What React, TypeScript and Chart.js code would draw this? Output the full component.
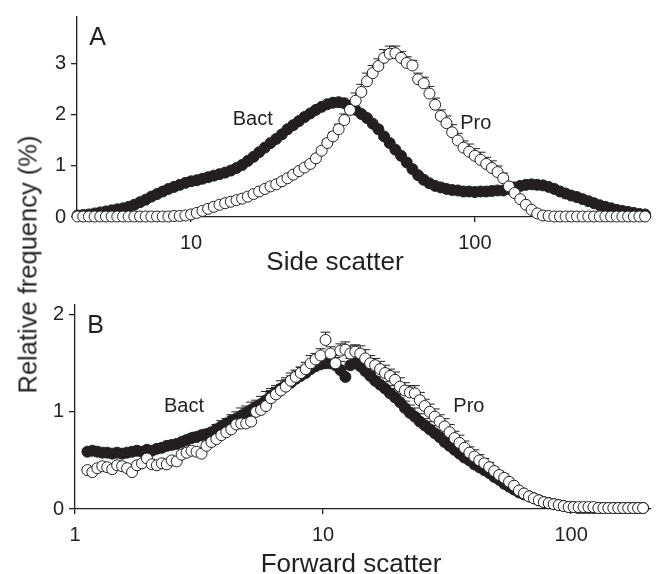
import React, { useEffect, useRef } from "react";
import { Chart, registerables } from "chart.js";

Chart.register(...registerables);

const FONT = '"Liberation Sans", Arial, Helvetica, sans-serif';
const INK = "#231f20";

// Channel grid: log10 of the scatter channel, equal log steps
const SIDE_LOG_START = 0.6;
const FWD_LOG_START = 0.05;
const LOG_STEP = 0.02;

// Panel A – side scatter, relative frequency (%)
const sideBact = [
  0.03, 0.04, 0.05, 0.07, 0.09, 0.11, 0.13, 0.15, 0.17, 0.2,
  0.24, 0.29, 0.34, 0.4, 0.45, 0.5, 0.55, 0.59, 0.63, 0.67,
  0.7, 0.72, 0.75, 0.78, 0.81, 0.84, 0.87, 0.91, 0.96, 1.02,
  1.1, 1.18, 1.27, 1.36, 1.45, 1.53, 1.62, 1.72, 1.8, 1.88,
  1.96, 2.03, 2.1, 2.16, 2.21, 2.24, 2.25, 2.23, 2.18, 2.1,
  2.02, 1.94, 1.83, 1.72, 1.58, 1.45, 1.32, 1.2, 1.07, 0.94,
  0.82, 0.73, 0.66, 0.61, 0.58, 0.55, 0.53, 0.52, 0.5, 0.5,
  0.49, 0.5, 0.5, 0.51, 0.52, 0.52, 0.55, 0.58, 0.61, 0.63,
  0.64, 0.63, 0.62, 0.59, 0.55, 0.5, 0.46, 0.42, 0.39, 0.35,
  0.31, 0.27, 0.23, 0.2, 0.17, 0.14, 0.12, 0.1, 0.08, 0.06,
  0.05,
];

const sidePro = [
  0.01, 0.01, 0.01, 0.01, 0.01, 0.01, 0.01, 0.01, 0.01, 0.01,
  0.01, 0.01, 0.01, 0.01, 0.01, 0.01, 0.01, 0.02, 0.02, 0.03,
  0.05, 0.08, 0.12, 0.16, 0.2, 0.24, 0.27, 0.3, 0.33, 0.36,
  0.4, 0.45, 0.5, 0.55, 0.6, 0.64, 0.7, 0.76, 0.83, 0.9,
  0.97, 1.04, 1.15, 1.3, 1.45, 1.58, 1.72, 1.9, 2.1, 2.28,
  2.45, 2.66, 2.82, 2.96, 3.12, 3.2, 3.21, 3.12, 3.02, 2.97,
  2.7, 2.62, 2.42, 2.2, 1.98, 1.84, 1.66, 1.5, 1.36, 1.28,
  1.2, 1.12, 1.04, 0.96, 0.88, 0.76, 0.6, 0.47, 0.35, 0.24,
  0.14, 0.07, 0.03, 0.02, 0.01, 0.01, 0.01, 0.01, 0.01, 0.01,
  0.01, 0.01, 0.01, 0.01, 0.01, 0.01, 0.01, 0.01, 0.01, 0.01,
  0.01,
];

const sideProErr = [
  0.02, 0.02, 0.02, 0.02, 0.02, 0.02, 0.02, 0.02, 0.02, 0.02,
  0.02, 0.02, 0.02, 0.02, 0.02, 0.02, 0.02, 0.02, 0.02, 0.02,
  0.02, 0.02, 0.02, 0.02, 0.02, 0.02, 0.02, 0.02, 0.02, 0.02,
  0.03, 0.03, 0.03, 0.03, 0.03, 0.03, 0.04, 0.04, 0.04, 0.04,
  0.05, 0.05, 0.06, 0.06, 0.07, 0.08, 0.1, 0.12, 0.14, 0.15,
  0.15, 0.16, 0.15, 0.14, 0.16, 0.15, 0.14, 0.12, 0.12, 0.1,
  0.12, 0.12, 0.14, 0.13, 0.12, 0.14, 0.15, 0.14, 0.13, 0.15,
  0.14, 0.15, 0.13, 0.14, 0.12, 0.1, 0.08, 0.06, 0.05, 0.04,
  0.03, 0.02, 0.02, 0.02, 0.02, 0.02, 0.02, 0.02, 0.02, 0.02,
  0.02, 0.02, 0.02, 0.02, 0.02, 0.02, 0.02, 0.02, 0.02, 0.02,
  0.02,
];

// Panel B – forward scatter, relative frequency (%)
const fwdBact = [
  0.59, 0.6, 0.59, 0.58, 0.58, 0.57, 0.58, 0.57, 0.58, 0.59,
  0.6, 0.59, 0.61, 0.6, 0.62, 0.63, 0.65, 0.66, 0.67, 0.69,
  0.71, 0.73, 0.74, 0.76, 0.77, 0.79, 0.82, 0.85, 0.88, 0.91,
  0.93, 0.96, 0.99, 1.02, 1.05, 1.08, 1.12, 1.16, 1.2, 1.24,
  1.27, 1.3, 1.34, 1.37, 1.4, 1.44, 1.47, 1.49, 1.5, 1.5,
  1.48, 1.43, 1.36, 1.48, 1.5, 1.47, 1.42, 1.37, 1.32, 1.28,
  1.24, 1.19, 1.15, 1.1, 1.04, 0.99, 0.95, 0.9, 0.86, 0.82,
  0.78, 0.74, 0.69, 0.65, 0.61, 0.57, 0.53, 0.5, 0.46, 0.43,
  0.4, 0.37, 0.33, 0.3, 0.26, 0.23, 0.2, 0.17, 0.15, 0.13,
  0.11, 0.09, 0.07, 0.06, 0.05, 0.04, 0.03, 0.02, 0.02, 0.01,
  0.01, 0.01, 0.01, 0.01, 0.01, 0.01, 0.01, 0.01, 0.01, 0.01,
  0.01, 0.01, 0.01,
];

const fwdBactErr = [
  0.02, 0.02, 0.02, 0.02, 0.02, 0.02, 0.02, 0.02, 0.02, 0.02,
  0.02, 0.02, 0.02, 0.02, 0.02, 0.02, 0.02, 0.02, 0.02, 0.02,
  0.04, 0.04, 0.05, 0.04, 0.05, 0.04, 0.05, 0.06, 0.05, 0.06,
  0.07, 0.08, 0.07, 0.08, 0.07, 0.08, 0.09, 0.08, 0.07, 0.08,
  0.08, 0.07, 0.08, 0.09, 0.08, 0.07, 0.08, 0.07, 0.08, 0.07,
  0.08, 0.09, 0.08, 0.07, 0.08, 0.08, 0.07, 0.08, 0.09, 0.08,
  0.07, 0.08, 0.09, 0.08, 0.07, 0.08, 0.09, 0.08, 0.07, 0.08,
  0.08, 0.07, 0.08, 0.07, 0.08, 0.07, 0.06, 0.07, 0.06, 0.06,
  0.05, 0.05, 0.04, 0.04, 0.04, 0.03, 0.03, 0.03, 0.03, 0.03,
  0.02, 0.02, 0.02, 0.02, 0.02, 0.02, 0.02, 0.02, 0.02, 0.02,
  0.02, 0.02, 0.02, 0.02, 0.02, 0.02, 0.02, 0.02, 0.02, 0.02,
  0.02, 0.02, 0.02,
];

const fwdPro = [
  0.4, 0.38, 0.42, 0.44, 0.43, 0.41, 0.45, 0.44, 0.42, 0.38,
  0.45, 0.47, 0.52, 0.46, 0.45, 0.47, 0.46, 0.5, 0.49, 0.56,
  0.58, 0.6, 0.59, 0.57, 0.65, 0.69, 0.72, 0.76, 0.79, 0.82,
  0.87, 0.88, 0.88, 0.9, 1.0, 1.02, 1.06, 1.14, 1.18, 1.22,
  1.26, 1.32, 1.36, 1.4, 1.44, 1.5, 1.54, 1.58, 1.74, 1.6,
  1.5, 1.63, 1.64, 1.6, 1.62, 1.6, 1.55, 1.5, 1.48, 1.44,
  1.4, 1.37, 1.33, 1.26, 1.22, 1.2, 1.19, 1.12, 1.06, 1.0,
  0.95, 0.9, 0.85, 0.79, 0.73, 0.68, 0.63, 0.58, 0.54, 0.5,
  0.47, 0.43, 0.39, 0.35, 0.32, 0.28, 0.24, 0.19, 0.16, 0.13,
  0.11, 0.09, 0.07, 0.06, 0.05, 0.04, 0.03, 0.02, 0.02, 0.02,
  0.02, 0.02, 0.02, 0.01, 0.01, 0.01, 0.01, 0.01, 0.01, 0.01,
  0.01, 0.01, 0.01,
];

const fwdProErr = [
  0.03, 0.03, 0.03, 0.03, 0.03, 0.03, 0.03, 0.03, 0.03, 0.03,
  0.03, 0.03, 0.03, 0.03, 0.03, 0.03, 0.03, 0.03, 0.03, 0.03,
  0.04, 0.04, 0.04, 0.04, 0.04, 0.04, 0.04, 0.04, 0.04, 0.04,
  0.06, 0.06, 0.07, 0.06, 0.07, 0.06, 0.07, 0.08, 0.07, 0.06,
  0.07, 0.08, 0.07, 0.06, 0.07, 0.08, 0.06, 0.07, 0.08, 0.07,
  0.08, 0.07, 0.08, 0.08, 0.07, 0.08, 0.09, 0.08, 0.07, 0.08,
  0.08, 0.07, 0.08, 0.09, 0.08, 0.07, 0.08, 0.08, 0.07, 0.08,
  0.08, 0.07, 0.08, 0.08, 0.07, 0.08, 0.07, 0.06, 0.07, 0.06,
  0.05, 0.05, 0.04, 0.04, 0.04, 0.03, 0.03, 0.03, 0.03, 0.03,
  0.02, 0.02, 0.02, 0.02, 0.02, 0.02, 0.02, 0.02, 0.02, 0.02,
  0.02, 0.02, 0.02, 0.02, 0.02, 0.02, 0.02, 0.02, 0.02, 0.02,
  0.02, 0.02, 0.02,
];

// Axis ticks
const sideTicksX = [10, 100];
const fwdTicksX = [1, 10, 100];
const sideTicksY = [0, 1, 2, 3];
const fwdTicksY = [0, 1, 2];

// Text labels inside panels (data coordinates)
const sideLabels = [
  { text: "A", x: 4.68, y: 3.5, size: 25 },
  { text: "Bact", x: 16.5, y: 1.92, size: 20 },
  { text: "Pro", x: 100.7, y: 1.83, size: 20 },
];
const fwdLabels = [
  { text: "B", x: 1.21, y: 1.88, size: 25 },
  { text: "Bact", x: 2.75, y: 1.06, size: 20 },
  { text: "Pro", x: 38.7, y: 1.06, size: 20 },
];

const channel = (start: number, i: number) => Math.pow(10, start + i * LOG_STEP);
const toPoints = (values: number[], start: number) =>
  values.map((v, i) => ({ x: channel(start, i), y: v }));

const errorBarsPlugin = {
  id: "errorBars",
  beforeDatasetDraw(chart: any, args: any) {
    const ds: any = chart.data.datasets[args.index];
    const errs: number[] | undefined = ds.errors;
    if (!errs) return;
    const yScale = chart.scales.y;
    const ctx = chart.ctx;
    ctx.save();
    ctx.strokeStyle = INK;
    ctx.lineWidth = 1;
    args.meta.data.forEach((pt: any, i: number) => {
      const v = ds.data[i].y;
      const top = yScale.getPixelForValue(v + errs[i]);
      ctx.beginPath();
      ctx.moveTo(pt.x, pt.y);
      ctx.lineTo(pt.x, top);
      ctx.moveTo(pt.x - 5, top);
      ctx.lineTo(pt.x + 5, top);
      ctx.stroke();
    });
    ctx.restore();
  },
};

const makeTextPlugin = (
  items: { text: string; x: number; y: number; size: number }[],
  title: { text: string; cx: number; baseline: number; size: number }
) => ({
  id: "panelText",
  afterDatasetsDraw(chart: any) {
    const ctx = chart.ctx;
    const xs = chart.scales.x;
    const ys = chart.scales.y;
    ctx.save();
    ctx.fillStyle = INK;
    ctx.textAlign = "center";
    ctx.textBaseline = "middle";
    items.forEach((it) => {
      ctx.font = `${it.size}px ${FONT}`;
      ctx.fillText(it.text, xs.getPixelForValue(it.x), ys.getPixelForValue(it.y));
    });
    ctx.textBaseline = "alphabetic";
    ctx.font = `${title.size}px ${FONT}`;
    ctx.fillText(title.text, title.cx, title.baseline);
    ctx.restore();
  },
});

type PanelSpec = {
  width: number;
  height: number;
  padding: { top: number; right: number; bottom: number; left: number };
  xMin: number;
  xMax: number;
  yMax: number;
  xTicks: number[];
  yTicks: number[];
  xTitle: string;
  xTitleCx: number;
  xTitleBaseline: number;
  xAxisHeight: number;
  yAxisWidth: number;
  bact: { x: number; y: number }[];
  bactErr: number[] | null;
  pro: { x: number; y: number }[];
  proErr: number[] | null;
  labels: { text: string; x: number; y: number; size: number }[];
};

function Panel({ spec }: { spec: PanelSpec }) {
  const ref = useRef<HTMLCanvasElement | null>(null);
  useEffect(() => {
    if (!ref.current) return;
    const tickFont = { family: FONT, size: 20 };
    const chart = new Chart(ref.current, {
      type: "scatter",
      data: {
        datasets: [
          {
            label: "Pro",
            data: spec.pro,
            errors: spec.proErr,
            pointRadius: 5.5,
            pointBackgroundColor: "#ffffff",
            pointBorderColor: INK,
            pointBorderWidth: 1,
            showLine: false,
            clip: false,
          } as any,
          {
            label: "Bact",
            data: spec.bact,
            errors: spec.bactErr,
            pointRadius: 5.5,
            pointBackgroundColor: INK,
            pointBorderColor: INK,
            pointBorderWidth: 1,
            showLine: false,
            clip: false,
          } as any,
        ],
      },
      options: {
        animation: false,
        responsive: false,
        events: [],
        layout: { padding: spec.padding },
        plugins: { legend: { display: false }, tooltip: { enabled: false } },
        scales: {
          x: {
            type: "logarithmic",
            min: spec.xMin,
            max: spec.xMax,
            afterBuildTicks: (s: any) => {
              s.ticks = spec.xTicks.map((v) => ({ value: v }));
            },
            afterFit: (s: any) => {
              s.height = spec.xAxisHeight;
            },
            ticks: {
              font: tickFont,
              color: INK,
              padding: 9,
              maxRotation: 0,
              autoSkip: false,
              callback: (v: any) => String(v),
            },
            grid: { drawOnChartArea: false, drawTicks: true, tickLength: 5, color: INK, lineWidth: 1.3 },
            border: { display: true, color: INK, width: 1.3 },
            title: { display: false },
          },
          y: {
            type: "linear",
            min: 0,
            max: spec.yMax,
            afterBuildTicks: (s: any) => {
              s.ticks = spec.yTicks.map((v) => ({ value: v }));
            },
            afterFit: (s: any) => {
              s.width = spec.yAxisWidth;
            },
            ticks: { font: tickFont, color: INK, padding: 5, callback: (v: any) => String(v) },
            grid: { drawOnChartArea: false, drawTicks: true, tickLength: 6, color: INK, lineWidth: 1.3 },
            border: { display: true, color: INK, width: 1.3 },
          },
        },
      } as any,
      plugins: [
        errorBarsPlugin,
        makeTextPlugin(spec.labels, {
          text: spec.xTitle,
          cx: spec.xTitleCx,
          baseline: spec.xTitleBaseline,
          size: 26,
        }),
      ],
    });
    return () => chart.destroy();
  }, [spec]);
  return (
    <canvas
      ref={ref}
      width={spec.width}
      height={spec.height}
      style={{ display: "block", width: spec.width, height: spec.height }}
    />
  );
}

const sideSpec: PanelSpec = {
  width: 657,
  height: 285,
  padding: { top: 13, right: 2, bottom: 0, left: 0 },
  xMin: Math.pow(10, 0.598),
  xMax: Math.pow(10, 2.619),
  yMax: 3.92,
  xTicks: sideTicksX,
  yTicks: sideTicksY,
  xTitle: "Side scatter",
  xTitleCx: 335,
  xTitleBaseline: 270,
  xAxisHeight: 68,
  yAxisWidth: 77,
  bact: toPoints(sideBact, SIDE_LOG_START),
  bactErr: null,
  pro: toPoints(sidePro, SIDE_LOG_START),
  proErr: sideProErr,
  labels: sideLabels,
};

const fwdSpec: PanelSpec = {
  width: 657,
  height: 289,
  padding: { top: 20, right: 2, bottom: 0, left: 0 },
  xMin: 1,
  xMax: Math.pow(10, 2.32),
  yMax: 2.1,
  xTicks: fwdTicksX,
  yTicks: fwdTicksY,
  xTitle: "Forward scatter",
  xTitleCx: 351,
  xTitleBaseline: 287,
  xAxisHeight: 65,
  yAxisWidth: 75,
  bact: toPoints(fwdBact, FWD_LOG_START),
  bactErr: fwdBactErr,
  pro: toPoints(fwdPro, FWD_LOG_START),
  proErr: fwdProErr,
  labels: fwdLabels,
};

export default function App() {
  return (
    <div
      style={{
        position: "absolute",
        left: 0,
        top: 0,
        width: 657,
        height: 574,
        background: "#ffffff",
        overflow: "hidden",
      }}
    >
      <div style={{ position: "absolute", left: 0, top: 0 }}>
        <Panel spec={sideSpec} />
      </div>
      <div style={{ position: "absolute", left: 0, top: 285 }}>
        <Panel spec={fwdSpec} />
      </div>
      <div
        style={{
          position: "absolute",
          left: 28 - 150,
          top: 264 - 12.5,
          width: 300,
          height: 25,
          lineHeight: "25px",
          fontFamily: FONT,
          fontSize: 25.5,
          color: INK,
          textAlign: "center",
          whiteSpace: "nowrap",
          transform: "rotate(-90deg)",
          transformOrigin: "50% 50%",
        }}
      >
        Relative frequency (%)
      </div>
    </div>
  );
}
